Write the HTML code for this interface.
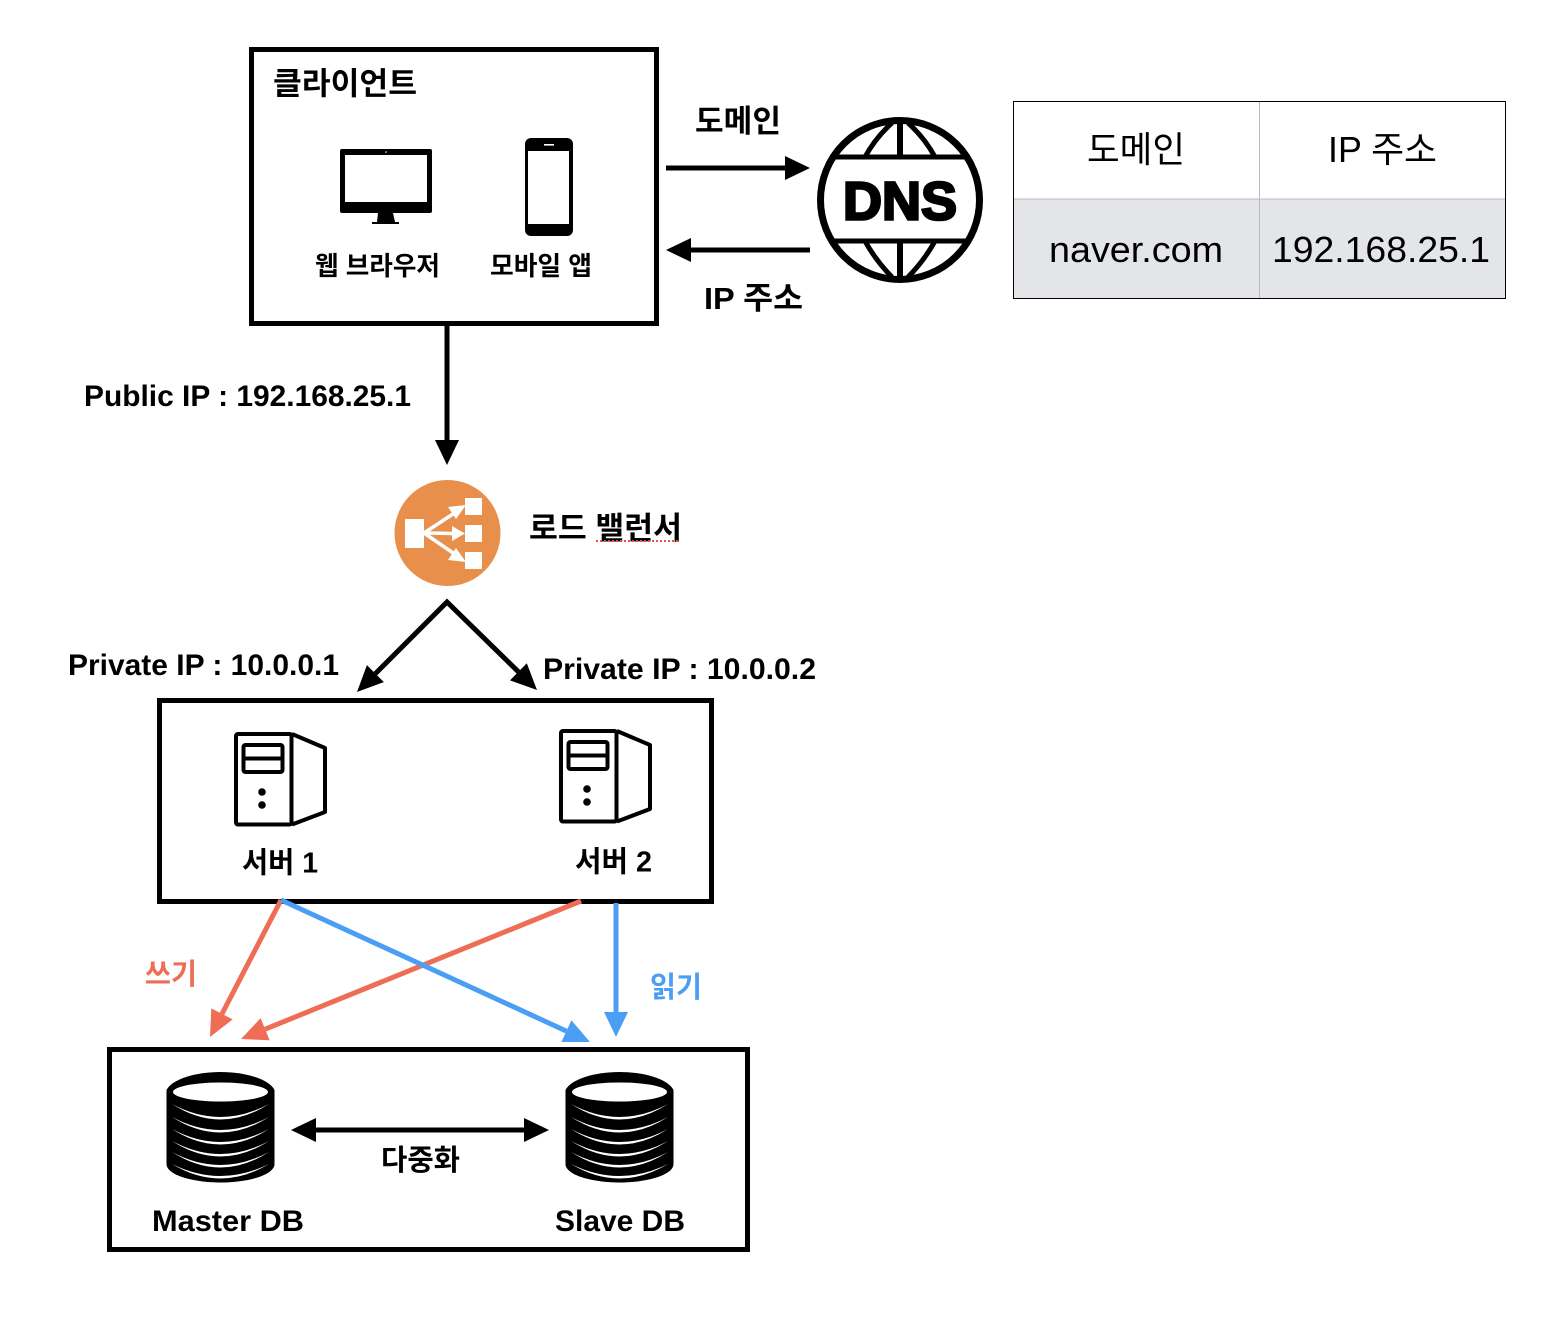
<!DOCTYPE html>
<html><head><meta charset="utf-8"><style>
html,body{margin:0;padding:0;background:#fff;width:1548px;height:1328px;overflow:hidden}
svg{display:block}
text{font-family:"Liberation Sans","Noto Sans CJK KR",sans-serif;font-weight:700;fill:#000}
text.r{font-weight:400;font-size:36px}
</style></head><body>
<svg width="1548" height="1328" viewBox="0 0 1548 1328" xmlns="http://www.w3.org/2000/svg">
<!-- boxes -->
<g fill="none" stroke="#000" stroke-width="5">
<rect x="251.5" y="49.5" width="405" height="274"/>
<rect x="159.5" y="700.5" width="552" height="201"/>
<rect x="109.5" y="1049.5" width="638" height="200"/>
</g>
<!-- black arrows -->
<g stroke="#000" stroke-width="5" fill="none">
<line x1="666" y1="168" x2="787" y2="168"/>
<line x1="810" y1="250" x2="690" y2="250"/>
<line x1="447" y1="326" x2="447" y2="442"/>
<polyline points="375.4,673.6 447,602 518.4,671.8"/>
<line x1="315" y1="1130" x2="525" y2="1130"/>
</g>
<g fill="#000">
<polygon points="810,168 785,156 785,180"/>
<polygon points="666,250 691,238 691,262"/>
<polygon points="447,465 435,440 459,440"/>
<polygon points="357,692 383.9,682.1 366.9,665.1"/>
<polygon points="537,690 510,680.4 526.8,663.2"/>
<polygon points="291,1130 316,1118 316,1142"/>
<polygon points="549,1130 524,1118 524,1142"/>
</g>
<!-- colored arrows -->
<g stroke="#EE6D55" stroke-width="5" fill="none">
<line x1="281" y1="900" x2="222" y2="1013.9"/>
<line x1="581" y1="901" x2="265.1" y2="1029.2"/>
</g>
<g fill="#EE6D55">
<polygon points="210,1037 232.7,1019.4 211.3,1008.4"/>
<polygon points="241,1039 269.6,1040.3 260.6,1018.1"/>
</g>
<g stroke="#4A9FF5" stroke-width="5" fill="none">
<line x1="281" y1="900" x2="566.4" y2="1031.1"/>
<line x1="616" y1="903" x2="616" y2="1013"/>
</g>
<g fill="#4A9FF5">
<polygon points="590,1042 561.4,1042 571.4,1020.2"/>
<polygon points="616,1037 604,1012 628,1012"/>
</g>
<!-- monitor -->
<path d="M342 149H430a2 2 0 0 1 2 2V211a2 2 0 0 1-2 2H342a2 2 0 0 1-2-2V151a2 2 0 0 1 2-2Z" fill="#000"/>
<rect x="345" y="155" width="82" height="47" fill="#fff"/>
<polygon points="378,213 393,213 395,222 399,222 399,224 372,224 372,222 377,222" fill="#000"/>
<circle cx="386" cy="152" r="0.8" fill="#fff"/>
<!-- phone -->
<rect x="525" y="138" width="48" height="98" rx="6" fill="#000"/>
<rect x="528" y="151" width="41" height="73" fill="#fff"/>
<rect x="544" y="144" width="10" height="1.6" fill="#fff"/>
<!-- DNS -->
<circle cx="900" cy="200" r="79.5" fill="#fff" stroke="#000" stroke-width="7"/>
<g stroke="#000" stroke-width="5" fill="none">
<line x1="834" y1="157" x2="966" y2="157"/>
<line x1="834" y1="241" x2="966" y2="241"/>
<line x1="900" y1="120" x2="900" y2="157" stroke-width="6"/>
<line x1="900" y1="241" x2="900" y2="279" stroke-width="6"/>
<path d="M892 123Q876 137 865 157"/>
<path d="M908 123Q924 137 935 157"/>
<path d="M865 241Q876 261 892 277"/>
<path d="M935 241Q924 261 908 277"/>
</g>
<text x="843" y="219.500" font-size="54" textLength="114" lengthAdjust="spacingAndGlyphs" stroke="#000" stroke-width="2.600">DNS</text>
<!-- Load balancer -->
<circle cx="447.5" cy="533" r="53" fill="#E88F4B"/>
<g fill="#fff">
<rect x="405" y="519" width="19" height="29"/>
<rect x="465" y="498" width="17" height="17"/>
<rect x="465" y="525" width="17" height="17"/>
<rect x="465" y="552" width="17" height="17"/>
</g>
<g stroke="#fff" stroke-width="3.600" fill="none">
<line x1="424" y1="533" x2="456" y2="512"/>
<line x1="424" y1="533" x2="454" y2="533.5"/>
<line x1="424" y1="533" x2="456" y2="555"/>
</g>
<g fill="#fff">
<polygon points="466,505 448,507 456,519"/>
<polygon points="465,533.5 452,526 452,541"/>
<polygon points="466,562 448,560 456,548"/>
</g>
<!-- servers -->
<g id="s" fill="none" stroke="#000" stroke-width="4" stroke-linejoin="round">
<rect x="236" y="734" width="55.5" height="90.5" rx="2"/>
<polyline points="292,734 325,748 325,812 292,824.5"/>
<rect x="243.5" y="745" width="39" height="27" rx="2"/>
<line x1="243.5" y1="758.5" x2="282.5" y2="758.5"/>
<circle cx="262" cy="792" r="3.8" fill="#000" stroke="none"/>
<circle cx="262" cy="805" r="3.8" fill="#000" stroke="none"/>
</g>
<use href="#s" x="325" y="-3"/>
<!-- databases -->
<g id="d">
<path d="M166.500 1090C172 1079 196 1072 220.500 1072C245 1072 269 1079 274.500 1090V1164C274.500 1175 248 1182.500 220.500 1182.500C193 1182.500 166.500 1175 166.500 1164Z" fill="#000"/>
<ellipse cx="220.500" cy="1092" rx="47.500" ry="9.500" fill="#fff"/>
<g fill="#fff">
<path d="M172 1104Q220.500 1130 269 1104Q220.500 1135 172 1104Z"/>
<path d="M172 1117Q220.500 1143 269 1117Q220.500 1148 172 1117Z"/>
<path d="M172 1129Q220.500 1155 269 1129Q220.500 1160 172 1129Z"/>
<path d="M172 1141Q220.500 1167 269 1141Q220.500 1172 172 1141Z"/>
<path d="M172 1152Q220.500 1178 269 1152Q220.500 1183 172 1152Z"/>
<path d="M172 1164Q220.500 1188 269 1164Q220.500 1193 172 1164Z"/>
</g>
</g>
<use href="#d" x="399" y="0"/>
<!-- table -->
<rect x="1014" y="199" width="491" height="99" fill="#E3E5E8"/>
<line x1="1014" y1="199" x2="1505" y2="199" stroke="#B9BDC0" stroke-width="1"/>
<line x1="1259.500" y1="102" x2="1259.500" y2="298" stroke="#B9BDC0" stroke-width="1"/>
<rect x="1013.500" y="101.500" width="492" height="197" fill="none" stroke="#000" stroke-width="1"/>
<text class="r" x="1087" y="162" textLength="98" lengthAdjust="spacingAndGlyphs">도메인</text>
<text class="r" x="1328" y="162" textLength="109" lengthAdjust="spacingAndGlyphs">IP 주소</text>
<text class="r" x="1049" y="262" textLength="174" lengthAdjust="spacingAndGlyphs">naver.com</text>
<text class="r" x="1272" y="262" textLength="218" lengthAdjust="spacingAndGlyphs">192.168.25.1</text>
<!-- labels -->
<text x="273" y="94.500" font-size="31" textLength="144" lengthAdjust="spacingAndGlyphs">클라이언트</text>
<text x="315" y="275" font-size="26" textLength="125" lengthAdjust="spacingAndGlyphs">웹 브라우저</text>
<text x="490" y="275" font-size="26" textLength="102" lengthAdjust="spacingAndGlyphs">모바일 앱</text>
<text x="695" y="132" font-size="31" textLength="86" lengthAdjust="spacingAndGlyphs">도메인</text>
<text x="704" y="309" font-size="31" textLength="99" lengthAdjust="spacingAndGlyphs">IP 주소</text>
<text x="84" y="406" font-size="29.500" textLength="327" lengthAdjust="spacingAndGlyphs">Public IP : 192.168.25.1</text>
<text x="529" y="539" font-size="31" textLength="153" lengthAdjust="spacingAndGlyphs">로드 밸런서</text>
<line x1="596" y1="541" x2="680" y2="541" stroke="#E8503F" stroke-width="2" stroke-dasharray="2 2"/>
<text x="68" y="675" font-size="29.500" textLength="271" lengthAdjust="spacingAndGlyphs">Private IP : 10.0.0.1</text>
<text x="543" y="679" font-size="29.500" textLength="273" lengthAdjust="spacingAndGlyphs">Private IP : 10.0.0.2</text>
<text x="242" y="872.500" font-size="29" textLength="76" lengthAdjust="spacingAndGlyphs">서버 1</text>
<text x="575" y="871.500" font-size="29" textLength="77" lengthAdjust="spacingAndGlyphs">서버 2</text>
<text x="145" y="984" font-size="29" textLength="52" lengthAdjust="spacingAndGlyphs" style="fill:#EE6D55">쓰기</text>
<text x="650" y="997" font-size="29" textLength="52" lengthAdjust="spacingAndGlyphs" style="fill:#4A9FF5">읽기</text>
<text x="381" y="1170" font-size="29" textLength="79" lengthAdjust="spacingAndGlyphs">다중화</text>
<text x="152" y="1231" font-size="29.500" textLength="152" lengthAdjust="spacingAndGlyphs">Master DB</text>
<text x="555" y="1231" font-size="29.500" textLength="130" lengthAdjust="spacingAndGlyphs">Slave DB</text>
</svg>
</body></html>
